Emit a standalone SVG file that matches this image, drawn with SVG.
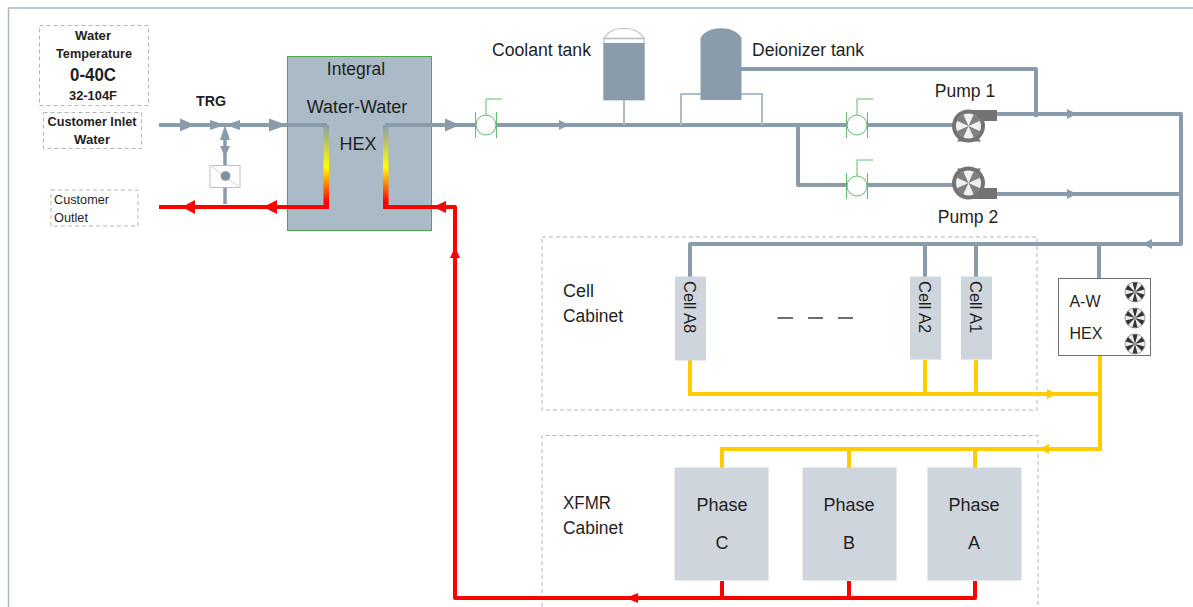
<svg xmlns="http://www.w3.org/2000/svg" width="1193" height="607" viewBox="0 0 1193 607">
<style>
text{font-family:"Liberation Sans",Arial,sans-serif;fill:#1f1f1f;text-anchor:middle}
.b{font-weight:bold}
.s{text-anchor:start}
.dash{fill:none;stroke:#b4b4b4;stroke-width:1;stroke-dasharray:4 3}
.p{fill:none;stroke:#8a9cab;stroke-width:4;stroke-linejoin:round}
.p3{fill:none;stroke:#8a9cab;stroke-width:3.500}
.thin{fill:none;stroke:#aebcc8;stroke-width:2}
.y{fill:none;stroke:#ffcc00;stroke-width:4}
.r{fill:none;stroke:#ff0000;stroke-width:4}
.ag{fill:#8a9cab}.ay{fill:#ffcc00}.ar{fill:#ff0000}
.gv{fill:none;stroke:#66b96f;stroke-width:1}
.box{fill:#cfd5dc}
.pump{fill:#737373}
</style>
<defs>
<linearGradient id="hot" x1="0" y1="0" x2="0" y2="1">
<stop offset="0" stop-color="#8a9cab"/><stop offset="0.5" stop-color="#ffff00"/><stop offset="0.92" stop-color="#ff0000"/>
</linearGradient>
<g id="valve">
<path class="gv" d="M-10.500 -13V13M10.500 -13V13M0 -9V-26H16"/>
<circle cx="0" cy="0" r="10" fill="#fff" stroke="#66b96f" stroke-width="1"/>
</g>
<g id="impeller">
<circle r="16.500" fill="#737373"/>
<circle r="12.500" fill="#f0f0f0"/>
<path d="M0 0L-4.500 -12A13 13 0 0 1 4.500 -12ZM0 0L12 -4.500A13 13 0 0 1 12 4.500ZM0 0L4.500 12A13 13 0 0 1 -4.500 12ZM0 0L-12 4.500A13 13 0 0 1 -12 -4.500Z" fill="#808080" transform="rotate(45)"/>
</g>
<g id="blades">
<path d="M0 0L-2.500 -9.500H2.500ZM0 0L-2.500 9.500H2.500Z" fill="#333"/>
</g>
<g id="fan">
<circle r="10" fill="#eee" stroke="#a0a0a0" stroke-width="1"/>
<use href="#blades"/><use href="#blades" transform="rotate(60)"/><use href="#blades" transform="rotate(120)"/>
</g>
</defs>
<path id="frame" d="M8.500 607V8H1193" fill="none" stroke="#a8b6c2" stroke-width="1.500"/>

<g id="cell-cabinet"><rect class="dash" x="542" y="237" width="495" height="173"/>
<text class="s" x="563" y="297" font-size="18" textLength="31" lengthAdjust="spacingAndGlyphs">Cell</text><text class="s" x="563" y="322" font-size="18" textLength="60" lengthAdjust="spacingAndGlyphs">Cabinet</text></g>
<g id="xfmr-cabinet"><path class="dash" d="M542 607V435.500H1038V607"/>
<text class="s" x="563" y="509" font-size="18" textLength="48" lengthAdjust="spacingAndGlyphs">XFMR</text><text class="s" x="563" y="534" font-size="18" textLength="60" lengthAdjust="spacingAndGlyphs">Cabinet</text></g>

<g id="hex"><rect x="287.500" y="56.500" width="144" height="174" fill="#aabbc7" stroke="#4ea64e" stroke-width="1"/>
<text x="356" y="75" font-size="17.500">Integral</text>
<text x="357" y="113" font-size="18">Water-Water</text>
<text x="358" y="150" font-size="18">HEX</text></g>

<g id="connectors">
<path class="p" d="M159 125H327M385 125H955"/>
<path class="p" d="M798 125V185H955"/>
<path class="p" d="M741 69H1036V117"/>
<path class="p" d="M996 114H1181V244H690V277M996 194H1181M925 244V277M976 244V277M1099 244V278"/>
<path class="thin" d="M624 100V125M681 125V94H703M741 94H762V125"/>
<path class="p3" d="M225 130V165M225 188V204"/>
<rect x="323.500" y="125" width="5.500" height="84" fill="url(#hot)"/>
<rect x="383" y="125" width="5.500" height="84" fill="url(#hot)"/>
<path class="r" d="M159 207H329M385 207H455V598H975V581M722 598V581M849 598V581" stroke-linejoin="round"/>
<path class="y" d="M690 360V394H1100M925 360V394M976 360V394M1100 356V449H722V468M849 449V468M975 449V468"/>
<path class="ag" d="M180 118.500L195 125L180 131.500ZM269 118.500L287 125L269 131.500ZM445 118.500L460 125L445 131.500ZM559 120L569 125L559 130ZM1067 109L1077 114L1067 119ZM1067 189L1077 194L1067 199ZM1152 239L1142 244L1152 249Z"/>
<path class="ar" d="M195 200L182 207L195 214ZM277 200L263 207L277 214ZM446 201L433 207L446 213ZM450 258L455 247L460 258ZM638 593L626 598L638 603Z"/>
<path class="ay" d="M1047 389L1057 394L1047 399ZM1049 444L1039 449L1049 454Z"/>
</g>

<g id="trg">
<path fill="#8a9cab" d="M210 120L225 125L210 130ZM240 120L225 125L240 130ZM220 140L225 125L230 140ZM220 146L225 157L230 146Z"/>
<text x="211" y="106" font-size="15" class="b" textLength="30" lengthAdjust="spacingAndGlyphs">TRG</text>
</g>
<g id="trg-actuator"><rect x="210" y="165.500" width="30" height="22" fill="#fff" stroke="#b5c2cc" stroke-width="1"/>
<path d="M212 167L238 186" stroke="#c4ced6" stroke-width="1"/><circle cx="225.500" cy="176" r="4.800" fill="#7f92a2"/></g>

<g id="temp"><rect class="dash" x="39.500" y="25.500" width="109" height="80"/>
<text x="93" y="40" font-size="13.500" class="b" textLength="36" lengthAdjust="spacingAndGlyphs">Water</text>
<text x="94" y="58" font-size="13.500" class="b" textLength="76" lengthAdjust="spacingAndGlyphs">Temperature</text>
<text x="93" y="81" font-size="18.500" class="b" textLength="46" lengthAdjust="spacingAndGlyphs">0-40C</text>
<text x="93" y="100" font-size="13.500" class="b" textLength="48" lengthAdjust="spacingAndGlyphs">32-104F</text></g>
<g id="inlet"><rect class="dash" x="43.500" y="112.500" width="98" height="36"/>
<text x="92" y="126" font-size="13.500" class="b" textLength="89" lengthAdjust="spacingAndGlyphs">Customer Inlet</text>
<text x="92" y="144" font-size="13.500" class="b" textLength="36" lengthAdjust="spacingAndGlyphs">Water</text></g>
<g id="outlet"><rect class="dash" x="51" y="190" width="87" height="36"/>
<text class="s" x="54" y="204" font-size="13" textLength="55" lengthAdjust="spacingAndGlyphs">Customer</text>
<text class="s" x="54" y="222" font-size="13" textLength="34" lengthAdjust="spacingAndGlyphs">Outlet</text></g>

<g id="valve-1"><use href="#valve" x="486" y="125"/></g>
<g id="valve-2"><use href="#valve" x="857" y="125"/></g>
<g id="valve-3"><use href="#valve" x="857" y="186"/></g>

<g id="coolant-tank"><text x="541.500" y="56" font-size="18" textLength="99" lengthAdjust="spacingAndGlyphs">Coolant tank</text>
<path d="M604 38C612 25 636 25 644 38V100H604Z" fill="#fff" stroke="#aebcc8" stroke-width="1.200"/>
<path d="M604 38.500H644" stroke="#aebcc8" stroke-width="1.500"/>
<rect x="603.500" y="43" width="41" height="57" fill="#8a9cab"/></g>
<g id="deionizer-tank"><path d="M700.500 100V38C707 25 735 25 741.500 38V100Z" fill="#8a9cab"/>
<text x="808" y="56" font-size="18" textLength="112" lengthAdjust="spacingAndGlyphs">Deionizer tank</text></g>

<g id="pump-1"><text x="965" y="97" font-size="17.500">Pump 1</text>
<path class="pump" d="M957 141.500L960 137H978L981 141.500ZM969 110H997V121H983V128H969Z"/>
<use href="#impeller" x="968.500" y="126"/></g>
<g id="pump-2"><text x="968" y="223" font-size="17.500">Pump 2</text>
<path class="pump" d="M957 168.500L960 173H978L981 168.500ZM969 199H997V188H983V181H969Z"/>
<use href="#impeller" x="968.500" y="183"/></g>

<g id="cell-a8"><rect class="box" x="675" y="276.500" width="31" height="84"/><text class="s" transform="translate(683.500 281) rotate(90)" font-size="16.500">Cell A8</text></g>
<g id="cell-a2"><rect class="box" x="910" y="276.500" width="31" height="83"/><text class="s" transform="translate(918.500 281) rotate(90)" font-size="16.500">Cell A2</text></g>
<g id="cell-a1"><rect class="box" x="961" y="276.500" width="31" height="83"/><text class="s" transform="translate(969.500 281) rotate(90)" font-size="16.500">Cell A1</text></g>
<g id="ellipsis"><path d="M777.500 318H793M808 318H823M838 318H853" stroke="#6e6e6e" stroke-width="1.800" fill="none"/></g>

<g id="aw-hex"><rect x="1058.500" y="278.500" width="92" height="77" fill="#fff" stroke="#707070" stroke-width="1"/>
<text x="1085" y="307" font-size="16">A-W</text><text x="1086" y="339" font-size="16">HEX</text>
<use href="#fan" x="1135" y="292"/><use href="#fan" x="1135" y="318"/><use href="#fan" x="1135" y="344"/></g>

<g id="phase-c"><rect class="box" x="674.500" y="467.500" width="94" height="113"/><text x="722" y="511" font-size="18">Phase</text><text x="722" y="549" font-size="18">C</text></g>
<g id="phase-b"><rect class="box" x="802.500" y="467.500" width="94" height="113"/><text x="849" y="511" font-size="18">Phase</text><text x="849" y="549" font-size="18">B</text></g>
<g id="phase-a"><rect class="box" x="927.500" y="467.500" width="94" height="113"/><text x="974" y="511" font-size="18">Phase</text><text x="974" y="549" font-size="18">A</text></g>
</svg>
